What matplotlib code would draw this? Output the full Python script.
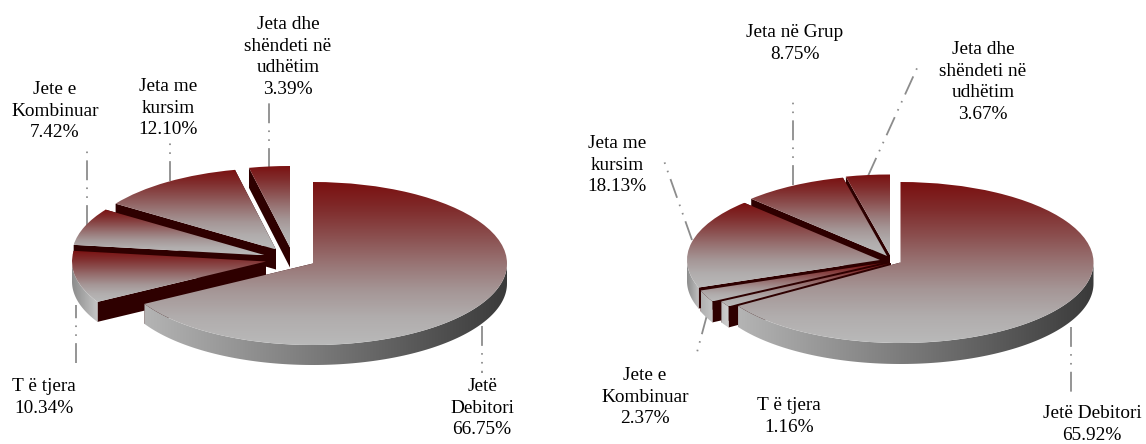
import numpy as np
import matplotlib
matplotlib.use("Agg")
import matplotlib.pyplot as plt
from matplotlib.patches import Wedge, Polygon
from matplotlib.colors import LinearSegmentedColormap
from matplotlib.transforms import Affine2D

plt.rcParams['font.family'] = ['Liberation Serif', 'DejaVu Serif']

# ---- data ----
left_labels = ["Jetë\nDebitori", "T ë tjera", "Jete e\nKombinuar", "Jeta me\nkursim",
               "Jeta dhe\nshëndeti në\nudhëtim"]
left_values = [66.75, 10.34, 7.42, 12.10, 3.39]
right_labels = ["Jetë Debitori", "T ë tjera", "Jete e\nKombinuar", "Jeta me\nkursim",
                "Jeta në Grup", "Jeta dhe\nshëndeti në\nudhëtim"]
right_values = [65.92, 1.16, 2.37, 18.13, 8.75, 3.67]

# ---- layout (pixels) ----
W, H = 1146, 444
left_pie = dict(cx=313, cy=263.5, rx=194, ry=81.5, depth=20,
                offsets=[(0, 0), (-47, -2), (-47, -8), (-37, -14), (-23, -16)],
                rims=[('#b4b4b4', '#3a3a3a'), ('#8c8c8c', '#c6c6c6'), ('#999999', '#bbbbbb'),
                      ('#999999', '#bbbbbb'), ('#999999', '#bbbbbb')],
                text=[(482, 384), (44, 384), (55, 87), (168, 84), (288, 22)],
                leaders=[((482, 326), (482, 373)), ((76, 363), (76, 305)), ((87, 225), (87, 148)),
                         ((170, 181), (170, 141)), ((269, 168), (269, 103))])
right_pie = dict(cx=900.5, cy=262.5, rx=193, ry=80.5, depth=21,
                 offsets=[(0, 0), (-9.5, 0.5), (-18.5, 0.5), (-20.5, -2.5), (-13.5, -6.5), (-10.5, -7.5)],
                 rims=[('#b4b4b4', '#3a3a3a'), ('#c0c0c0', '#d0d0d0'), ('#b0b0b0', '#c4c4c4'),
                       ('#8c8c8c', '#c0c0c0'), ('#999999', '#bbbbbb'), ('#999999', '#bbbbbb')],
                 text=[(1092, 411), (789, 403), (645, 373), (617, 141), (795, 30), (983, 47)],
                 leaders=[((1071, 327), (1071, 396)), None, ((707, 315), (696, 356)),
                          ((692, 240), (663, 158)), ((793, 185), (793, 98)), ((868, 176), (918, 66))])

TOP = LinearSegmentedColormap.from_list('top', ['#7a1010', '#802c2c', '#8b4f4f', '#987474', '#a59696', '#b1adad', '#b9b9b9'])
DARK = '#2e0000'
LEADER = '#8c8c8c'
FS = 13.9
LS = 1.36
DASH = (0, (11, 4, 0.9, 4, 0.9, 4))

fig = plt.figure(figsize=(W / 100, H / 100), dpi=100)
ax = fig.add_axes([0, 0, 1, 1])
ax.set_axis_off()
grad_v = np.linspace(0, 1, 256).reshape(-1, 1)
grad_h = np.linspace(0, 1, 256).reshape(1, -1)


def point(cx, cy, rx, ry, deg):
    r = np.radians(deg)
    return cx + rx * np.sin(r), cy - ry * np.cos(r)


def draw_pie(values, labels, p):
    rx, ry, d = p['rx'], p['ry'], p['depth']
    n = len(values)
    edges = np.concatenate([[0], np.cumsum(values)]) / np.sum(values) * 360
    for i in reversed(range(n)):
        base = 1 + (n - i) * 0.1
        a0, a1 = edges[i], edges[i + 1]
        cx, cy = p['cx'] + p['offsets'][i][0], p['cy'] + p['offsets'][i][1]
        for a in (a0, a1):
            x, y = point(cx, cy, rx, ry, a)
            ax.add_patch(Polygon([(cx, cy), (x, y), (x, y + d), (cx, cy + d)],
                                 closed=True, fc=DARK, ec='none', lw=0, zorder=base))
        lo, hi = max(a0, 90), min(a1, 270)
        if hi > lo:
            th = np.linspace(lo, hi, 120)
            xs, ys = point(cx, cy, rx, ry, th)
            rim = Polygon(np.r_[np.c_[xs, ys], np.c_[xs, ys + d][::-1]], closed=True,
                          fc='none', ec='none')
            ax.add_patch(rim)
            cm = LinearSegmentedColormap.from_list('rim', list(p['rims'][i]))
            ax.imshow(grad_h, extent=[xs.min(), xs.max(), ys.max() + d, ys.min()], cmap=cm,
                      aspect='auto', clip_path=rim, interpolation='bilinear', zorder=base + 0.03)
        tf = Affine2D().scale(rx, -ry).translate(cx, cy)
        w = Wedge((0, 0), 1, 90 - a1, 90 - a0, fc='none', ec='none', transform=tf + ax.transData)
        ax.add_patch(w)
        bb = tf.transform_path(w.get_path()).get_extents()
        ax.imshow(grad_v, extent=[bb.x0, bb.x1, bb.y1, bb.y0], cmap=TOP, aspect='auto',
                  clip_path=w, interpolation='bilinear', zorder=base + 0.06)
    for i, v in enumerate(values):
        tx, ty = p['text'][i]
        ax.text(tx, ty - 6, f"{labels[i]}\n{v:.2f}%", ha='center', va='top', fontsize=FS,
                linespacing=LS, color='black', zorder=5)
        if p['leaders'][i] is not None:
            (x0, y0), (x1, y1) = p['leaders'][i]
            ax.plot([x0, x1], [y0, y1], color=LEADER, lw=1.3, ls=DASH, zorder=0.5)


draw_pie(left_values, left_labels, left_pie)
draw_pie(right_values, right_labels, right_pie)
ax.set_xlim(0, W)
ax.set_ylim(H, 0)
fig.savefig('out.png', dpi=100, facecolor='white')
